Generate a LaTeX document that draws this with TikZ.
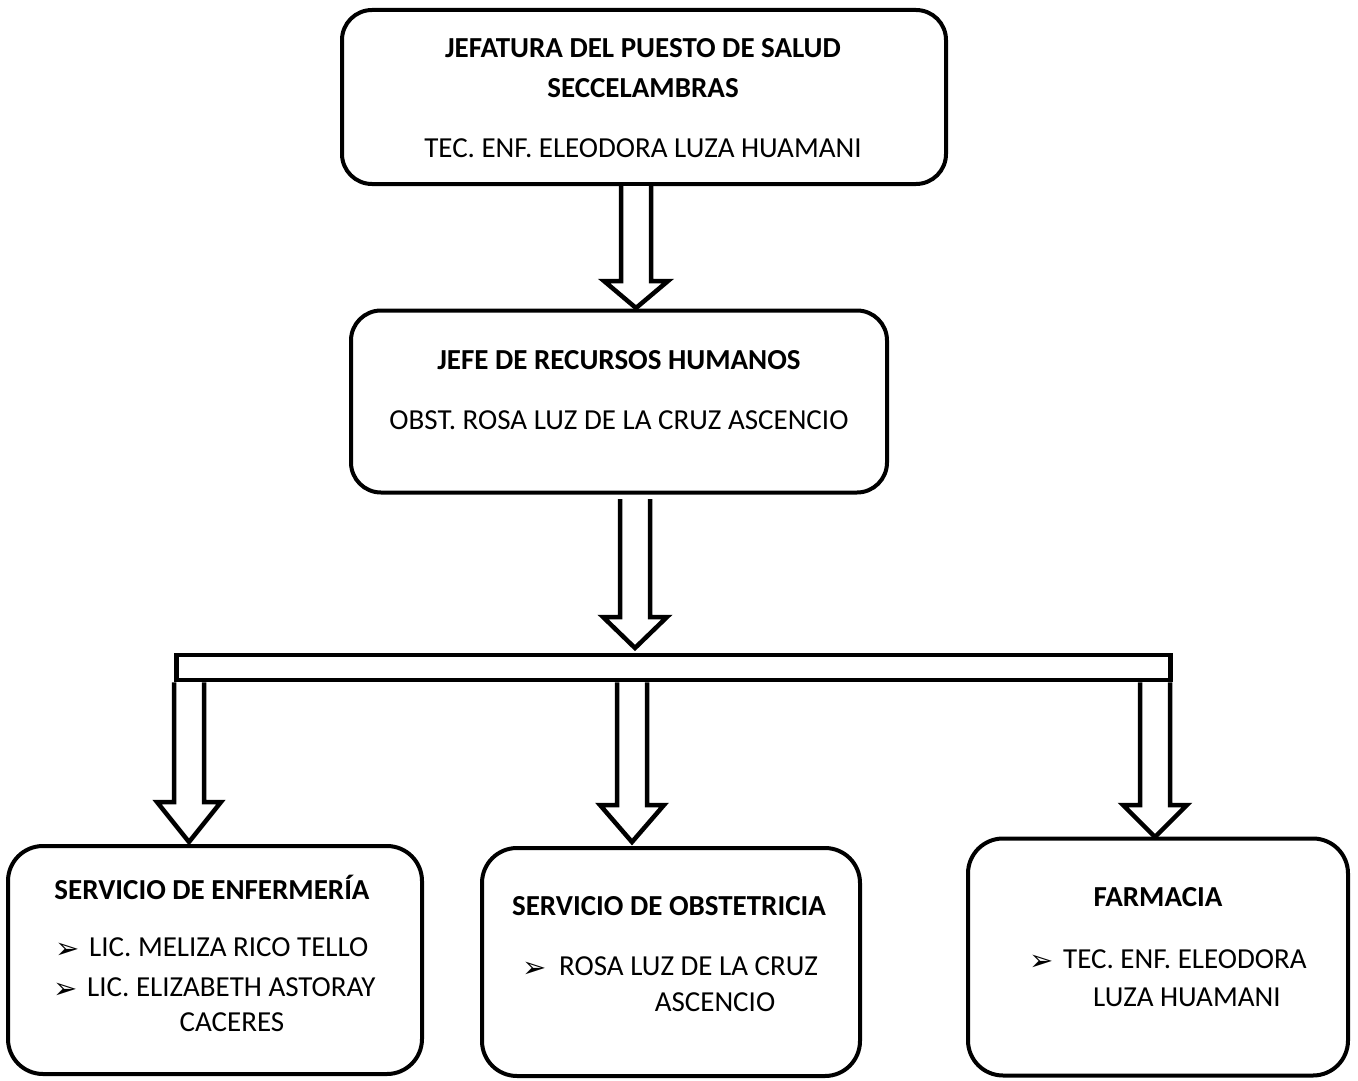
\documentclass[tikz,border=0pt]{standalone}
\usepackage{fontspec}
\setmainfont{Carlito}
\newfontfamily\symfont{DejaVu Sans}
\usetikzlibrary{calc}
\newcommand\blockarrow[3]{% #1 start, #2 tip, #3 head length
  \draw[barrow] let \p1=(#1), \p2=(#2) in
    (\x2-15pt,\y1) -- (\x2-15pt,\y2+#3pt) -- (\x2-32pt,\y2+#3pt) -- (\x2,\y2)
    -- (\x2+32pt,\y2+#3pt) -- (\x2+15pt,\y2+#3pt) -- (\x2+15pt,\y1);}
\begin{document}
\begin{tikzpicture}[x=1pt,y=-1pt,
  box/.style={draw, line width=4pt, rounded corners=30pt, inner sep=0pt},
  barrow/.style={draw, line width=4.5pt, line join=miter, fill=white},
  txt/.style={inner sep=0pt, font=\fontsize{29}{34}\selectfont},
  btxt/.style={inner sep=0pt, font=\fontsize{29}{34}\selectfont\bfseries},
  bul/.style={inner sep=0pt, font=\symfont\fontsize{29}{32}\selectfont}]
\useasboundingbox (0,0) rectangle (1358,1081);

% boxes
\node[box, minimum width=604, minimum height=174] (b1) at (644,97) {};
\node[box, minimum width=536, minimum height=182] (b2) at (619,401.5) {};
\node[box, rounded corners=35pt, minimum width=414, minimum height=228] (bL) at (215,960) {};
\node[box, rounded corners=35pt, minimum width=378, minimum height=228] (bM) at (671,962) {};
\node[box, rounded corners=35pt, minimum width=380, minimum height=237] (bR) at (1158,957) {};

% bar
\node[draw, line width=4.5pt, inner sep=0pt, minimum width=994, minimum height=25] (bar) at (673.5,667.5) {};

% arrows
\coordinate (t1) at (636,308);
\blockarrow{b1.south}{t1}{27}
\coordinate (s2) at (635,499);
\coordinate (t2) at (635,648);
\blockarrow{s2}{t2}{31}
\coordinate (tL) at (189,842);
\blockarrow{bar.south}{tL}{40}
\coordinate (tM) at (632,842);
\blockarrow{bar.south}{tM}{37}
\coordinate (tR) at (1155,837);
\blockarrow{bar.south}{tR}{32}

% texts box 1
\node[btxt, anchor=base] (j1) at (643,58) {JEFATURA DEL PUESTO DE SALUD};
\node[btxt, anchor=base] (j2) at (643,97) {SECCELAMBRAS};
\node[txt, anchor=base] (j3) at (643,157) {TEC. ENF. ELEODORA LUZA HUAMANI};
% texts box 2
\node[btxt, anchor=base] (r1) at (619,369) {JEFE DE RECURSOS HUMANOS};
\node[txt, anchor=base] (r2) at (619,429) {OBST. ROSA LUZ DE LA CRUZ ASCENCIO};
% box L
\node[btxt, anchor=base] (e1) at (212,899) {SERVICIO DE ENFERMERÍA};
\node[bul, anchor=base west] (eb1) at (55,958) {➢};
\node[txt, anchor=base west] (e2) at (89,956) {LIC. MELIZA RICO TELLO};
\node[bul, anchor=base west] (eb2) at (53,998) {➢};
\node[txt, anchor=base west] (e3) at (87,996) {LIC. ELIZABETH ASTORAY};
\node[txt, anchor=base] (e4) at (232,1031) {CACERES};
% box M
\node[btxt, anchor=base] (o1) at (669,915) {SERVICIO DE OBSTETRICIA};
\node[bul, anchor=base west] (ob1) at (522,977) {➢};
\node[txt, anchor=base west] (o2) at (559,975) {ROSA LUZ DE LA CRUZ};
\node[txt, anchor=base] (o3) at (715,1011) {ASCENCIO};
% box R
\node[btxt, anchor=base] (f1) at (1158,906) {FARMACIA};
\node[bul, anchor=base west] (fb1) at (1029,970) {➢};
\node[txt, anchor=base west] (f2) at (1063,968) {TEC. ENF. ELEODORA};
\node[txt, anchor=base west] (f3) at (1093,1006) {LUZA HUAMANI};
\end{tikzpicture}
\end{document}
